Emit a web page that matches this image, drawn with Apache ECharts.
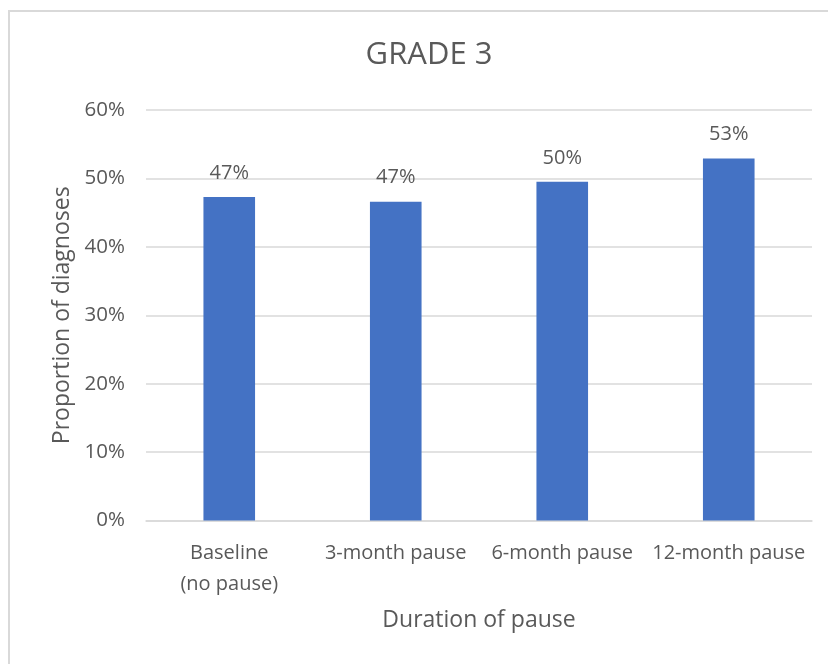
<!DOCTYPE html>
<html>
<head>
<meta charset="utf-8">
<script src="https://cdn.jsdelivr.net/npm/echarts@6/dist/echarts.min.js"></script>
<style>
html,body{margin:0;padding:0;background:#fff;}
#chart{width:828px;height:664px;}
</style>
</head>
<body>
<div id="chart"></div>
<script>
var categories = ['Baseline\n(no pause)', '3-month pause', '6-month pause', '12-month pause'];
var proportions = [47.3, 46.6, 49.5, 52.9];
var yTicks = { min: 0, max: 60, interval: 10 };
var titleText = 'GRADE 3';
var xName = 'Duration of pause';
var yName = 'Proportion of diagnoses';

var FONT = '"Open Sans", "Liberation Sans", sans-serif';
var TXT = '#595959';
var chart = echarts.init(document.getElementById('chart'));
chart.setOption({
  animation: false,
  backgroundColor: '#ffffff',
  graphic: [{
    type: 'rect',
    shape: { x: 9, y: 11, width: 1000, height: 1000 },
    style: { fill: 'none', stroke: '#d9d9d9', lineWidth: 2 },
    silent: true
  }],
  title: {
    text: titleText,
    left: 424,
    textAlign: 'center',
    top: 35,
    textStyle: { fontFamily: FONT, fontSize: 31, fontWeight: 'normal', color: TXT }
  },
  grid: { left: 146, right: 16, top: 110, bottom: 143.5 },
  xAxis: {
    type: 'category',
    data: categories,
    name: xName,
    nameLocation: 'middle',
    nameGap: 88,
    nameTextStyle: { fontFamily: FONT, fontSize: 23, color: TXT },
    axisLine: { lineStyle: { color: '#d9d9d9', width: 1.5 } },
    axisTick: { show: false },
    axisLabel: { fontFamily: FONT, fontSize: 20, color: TXT, lineHeight: 31, margin: 17, interval: 0 }
  },
  yAxis: {
    type: 'value',
    min: yTicks.min,
    max: yTicks.max,
    interval: yTicks.interval,
    name: yName,
    nameLocation: 'middle',
    nameGap: 72,
    nameTextStyle: { fontFamily: FONT, fontSize: 23, color: TXT },
    axisLine: { show: false },
    axisTick: { show: false },
    splitLine: { lineStyle: { color: '#d9d9d9', width: 1.5 } },
    axisLabel: { fontFamily: FONT, fontSize: 20.5, color: TXT, margin: 21, formatter: function (v) { return v + '%'; } }
  },
  series: [{
    type: 'bar',
    data: proportions,
    barWidth: '31%',
    itemStyle: { color: '#4472c4' },
    label: {
      show: true,
      position: 'top',
      distance: 14,
      fontFamily: FONT,
      fontSize: 20,
      color: TXT,
      formatter: function (p) { return Math.round(p.value) + '%'; }
    }
  }]
});
</script>
</body>
</html>
